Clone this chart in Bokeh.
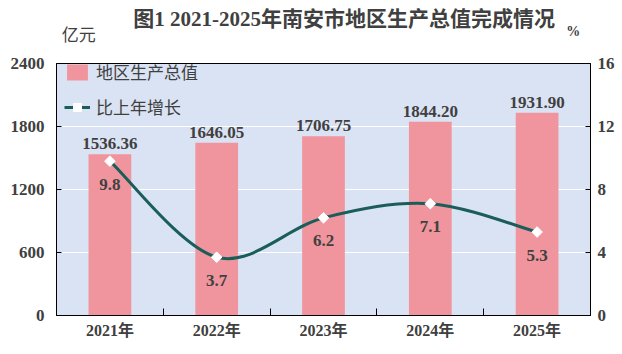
from bokeh.plotting import figure
from bokeh.layouts import column
from bokeh.models import (Range1d, LinearAxis, FixedTicker, Legend,
                          LegendItem, ColumnDataSource)
from bokeh.core.properties import value
from bokeh.embed import file_html
from bokeh.resources import INLINE

# ---- data ----
years = ["2021年", "2022年", "2023年", "2024年", "2025年"]
gdp = [1536.36, 1646.05, 1706.75, 1844.20, 1931.90]
growth = [9.8, 3.7, 6.2, 7.1, 5.3]
left_ticks = [0, 600, 1200, 1800, 2400]
right_ticks = [0, 4, 8, 12, 16]
title_text = "图1  2021-2025年南安市地区生产总值完成情况"
left_unit = "亿元"
right_unit = "%"

SERIF = "'Liberation Serif', 'Noto Sans CJK SC'"
TXT = "#404040"
BAR = "#F0959E"
LINE = "#1B5E59"
BG = "#DAE3F3"

W = 622
HEAD_H = 50

# ---- header (title + units) ----
head = figure(width=W, height=HEAD_H, output_backend="svg", toolbar_location=None,
              x_range=Range1d(0, W), y_range=Range1d(0, HEAD_H),
              min_border=0, x_axis_location=None, y_axis_location=None)
head.outline_line_color = None
head.grid.visible = False
head.background_fill_color = "white"
head.border_fill_color = "white"
head.text(x=[338], y=[HEAD_H - 18], text=[title_text], text_align="center",
          text_baseline="middle", text_font=value(SERIF), text_font_style="bold",
          text_font_size="21px", text_color=TXT)
head.text(x=[26], y=[HEAD_H - 35], text=[left_unit], text_align="center",
          text_baseline="middle", text_font=value(SERIF), text_font_size="17px",
          text_color=TXT)
head.text(x=[602], y=[HEAD_H - 31], text=[right_unit], text_align="center",
          text_baseline="middle", text_font=value(SERIF), text_font_style="bold",
          text_font_size="14px", text_color=TXT)

# ---- main chart ----
xs = list(range(len(years)))

p = figure(width=W, height=354 - HEAD_H, output_backend="svg", toolbar_location=None,
           x_range=Range1d(-0.5, len(years) - 0.5), y_range=Range1d(0, 2400),
           min_border_left=56, min_border_right=32, min_border_top=63 - HEAD_H,
           min_border_bottom=39, y_axis_location=None, x_axis_location=None)
p.background_fill_color = BG
p.border_fill_color = "white"
p.outline_line_color = "black"
p.outline_line_width = 1
p.extra_y_ranges = {"pct": Range1d(0, 16)}

xa = LinearAxis(ticker=FixedTicker(ticks=xs, minor_ticks=[i + 0.5 for i in xs[:-1]]))
xa.major_label_overrides = {i: years[i] for i in xs}
xa.major_tick_line_color = None
xa.minor_tick_in = 7
xa.minor_tick_out = 0
xa.minor_tick_line_color = "black"
xa.axis_line_color = "black"
xa.major_label_text_font = SERIF
xa.major_label_text_font_style = "bold"
xa.major_label_text_font_size = "16px"
xa.major_label_text_color = TXT
xa.major_label_standoff = 0
p.add_layout(xa, "below")

ya = LinearAxis(ticker=FixedTicker(ticks=left_ticks))
ya.major_tick_in = 5
ya.major_tick_out = 0
ya.minor_tick_line_color = None
ya.axis_line_color = "black"
ya.major_tick_line_color = "black"
ya.major_label_text_font = SERIF
ya.major_label_text_font_style = "bold"
ya.major_label_text_font_size = "17px"
ya.major_label_text_color = TXT
ya.major_label_standoff = 12
p.add_layout(ya, "left")

yr = LinearAxis(y_range_name="pct", ticker=FixedTicker(ticks=right_ticks))
yr.major_tick_in = 5
yr.major_tick_out = 0
yr.minor_tick_line_color = None
yr.axis_line_color = "black"
yr.major_tick_line_color = "black"
yr.major_label_text_font = SERIF
yr.major_label_text_font_style = "bold"
yr.major_label_text_font_size = "17px"
yr.major_label_text_color = TXT
yr.major_label_standoff = 7
p.add_layout(yr, "right")

p.xgrid.visible = False
p.ygrid.ticker = FixedTicker(ticks=left_ticks)
p.ygrid.grid_line_color = "white"
p.ygrid.grid_line_width = 1

src = ColumnDataSource(dict(x=xs, gdp=gdp, growth=growth,
                            glab=["%.2f" % v for v in gdp],
                            rlab=["%.1f" % v for v in growth]))
bars = p.vbar(x="x", top="gdp", width=0.4, source=src, fill_color=BAR, line_color=None)
p.text(x="x", y="gdp", text="glab", source=src, text_align="center",
       text_baseline="bottom", y_offset=-5, text_font=value(SERIF),
       text_font_style="bold", text_font_size="17px", text_color=TXT)

# smoothed growth line (Bezier segments derived from the data points)
n = len(growth)
seg = dict(x0=[], y0=[], x1=[], y1=[], cx0=[], cy0=[], cx1=[], cy1=[])
for i in range(n - 1):
    pr = max(i - 1, 0)
    nx = min(i + 2, n - 1)
    seg["x0"].append(xs[i]); seg["y0"].append(growth[i])
    seg["x1"].append(xs[i + 1]); seg["y1"].append(growth[i + 1])
    seg["cx0"].append(xs[i] + (xs[i + 1] - xs[pr]) / 6)
    seg["cy0"].append(growth[i] + (growth[i + 1] - growth[pr]) / 6)
    seg["cx1"].append(xs[i + 1] - (xs[nx] - xs[i]) / 6)
    seg["cy1"].append(growth[i + 1] - (growth[nx] - growth[i]) / 6)
curve = p.bezier(source=ColumnDataSource(seg), x0="x0", y0="y0", x1="x1", y1="y1",
                 cx0="cx0", cy0="cy0", cx1="cx1", cy1="cy1",
                 line_color=LINE, line_width=3, y_range_name="pct")
pts = p.scatter(x="x", y="growth", source=src, marker="square", angle=0.785398,
                size=7.5, fill_color="white", line_color="white", line_width=1,
                y_range_name="pct")
p.text(x="x", y="growth", text="rlab", source=src, text_align="center",
       text_baseline="middle", y_offset=23, text_font=value(SERIF),
       text_font_style="bold", text_font_size="17px", text_color=TXT,
       y_range_name="pct")

leg = Legend(items=[LegendItem(label="地区生产总值", renderers=[bars]),
                    LegendItem(label="比上年增长", renderers=[curve, pts])],
             location=(8, 196), background_fill_alpha=0, border_line_color=None,
             glyph_width=26, glyph_height=20, spacing=10, padding=2, margin=0,
             label_text_font=SERIF, label_text_font_size="17px",
             label_text_color=TXT, label_standoff=6)
p.add_layout(leg, "center")

layout = column(head, p, spacing=0)
open("out.html", "w").write(file_html(layout, INLINE))
